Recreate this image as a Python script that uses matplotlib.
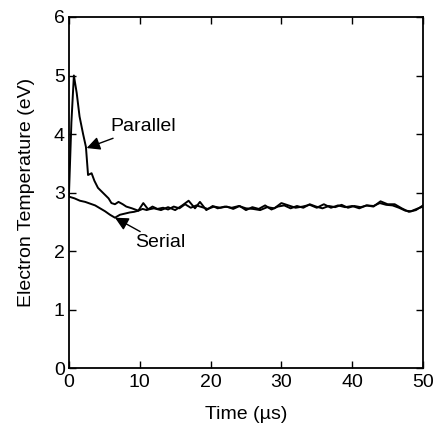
import matplotlib
matplotlib.use("Agg")
import matplotlib.pyplot as plt

plt.rcParams['font.family'] = ['Liberation Sans', 'DejaVu Sans']

# Parallel curve
t_par = [0, 0.35, 0.7, 1.1, 1.5, 2.0, 2.4, 2.7, 3.2, 3.6, 4.1, 4.6, 5.1, 5.6, 6.0, 6.5, 7.0, 7.6, 8.1, 8.9, 9.8,
         10.5, 11.2, 12.0, 13.0, 14.0, 15.0, 16.0, 16.9, 17.8, 18.5, 19.4, 20.3, 21.0, 22.0, 23.0, 24.0,
         25.0, 26.0, 27.0, 28.0, 29.0, 30.0, 31.0, 32.0, 33.0, 34.0, 35.0, 36.0, 37.0, 38.0, 39.0, 40.0,
         41.0, 42.0, 43.0, 44.0, 45.0, 46.0, 47.0, 48.0, 49.0, 50.0]
T_par = [2.95, 4.2, 5.0, 4.7, 4.3, 4.0, 3.78, 3.3, 3.33, 3.2, 3.08, 3.02, 2.96, 2.9, 2.82, 2.80, 2.84, 2.80, 2.76, 2.73, 2.69,
         2.82, 2.71, 2.73, 2.70, 2.75, 2.70, 2.78, 2.86, 2.73, 2.84, 2.70, 2.77, 2.73, 2.76, 2.74, 2.77,
         2.73, 2.72, 2.70, 2.75, 2.73, 2.82, 2.78, 2.74, 2.76, 2.79, 2.74, 2.80, 2.74, 2.78, 2.75, 2.77,
         2.73, 2.78, 2.76, 2.85, 2.80, 2.80, 2.73, 2.67, 2.70, 2.78]

# Serial curve
t_ser = [0, 0.8, 1.55, 2.3, 3.0, 3.7, 4.4, 5.1, 5.8, 6.5, 7.2, 7.9, 8.6, 9.2, 9.8,
         10.4, 11.0, 11.8, 12.5, 13.3, 14.0, 14.8, 15.6, 16.4, 17.2, 18.0, 18.8, 19.6, 20.5, 21.4, 22.3,
         23.2, 24.1, 25.0, 25.9, 26.8, 27.7, 28.6, 29.5, 30.4, 31.3, 32.2, 33.1, 34.0, 34.9, 35.8, 36.7,
         37.6, 38.5, 39.4, 40.3, 41.2, 42.1, 43.0, 43.9, 44.8, 45.7, 46.6, 47.5, 48.3, 49.1, 50.0]
T_ser = [2.93, 2.90, 2.86, 2.84, 2.81, 2.78, 2.73, 2.68, 2.62, 2.57, 2.62, 2.64, 2.66, 2.67, 2.69,
         2.72, 2.70, 2.76, 2.72, 2.74, 2.71, 2.76, 2.73, 2.80, 2.74, 2.78, 2.75, 2.72, 2.76, 2.74, 2.76,
         2.72, 2.77, 2.70, 2.75, 2.72, 2.78, 2.71, 2.76, 2.78, 2.73, 2.77, 2.74, 2.80, 2.76, 2.73, 2.77,
         2.75, 2.79, 2.74, 2.77, 2.75, 2.78, 2.77, 2.82, 2.79, 2.78, 2.74, 2.69, 2.68, 2.72, 2.76]

x_ticks = [0, 10, 20, 30, 40, 50]
y_ticks = [0, 1, 2, 3, 4, 5, 6]

FS = 14

fig = plt.figure(figsize=(4.39, 4.29), dpi=100)
ax = fig.add_axes([0.157, 0.142, 0.8066, 0.8184])

ax.plot(t_par, T_par, color='black', lw=1.4)
ax.plot(t_ser, T_ser, color='black', lw=1.4)

ax.set_xlim(0, 50)
ax.set_ylim(0, 6)
ax.set_xticks(x_ticks)
ax.set_yticks(y_ticks)
ax.tick_params(direction='in', length=5, width=1, top=True, right=True, labelsize=FS)
ax.tick_params(axis='y', pad=3)
ax.tick_params(axis='x', pad=4)
for s in ax.spines.values():
    s.set_linewidth(1.3)

ax.set_xlabel('Time (\u00b5s)', fontsize=FS, labelpad=11)
ax.set_ylabel('Electron Temperature (eV)', fontsize=FS)
ax.yaxis.set_label_coords(-0.095, 0.5)

arrow = dict(arrowstyle='-|>', color='black', lw=1.0, mutation_scale=20, shrinkA=0, shrinkB=0)
ax.annotate('Parallel', xy=(2.5, 3.76), xytext=(5.9, 4.12), fontsize=FS,
            va='center', ha='left', arrowprops=arrow)
ax.annotate('Serial', xy=(6.5, 2.57), xytext=(9.4, 2.14), fontsize=FS,
            va='center', ha='left', arrowprops=arrow)

fig.savefig('out.png', dpi=100)
